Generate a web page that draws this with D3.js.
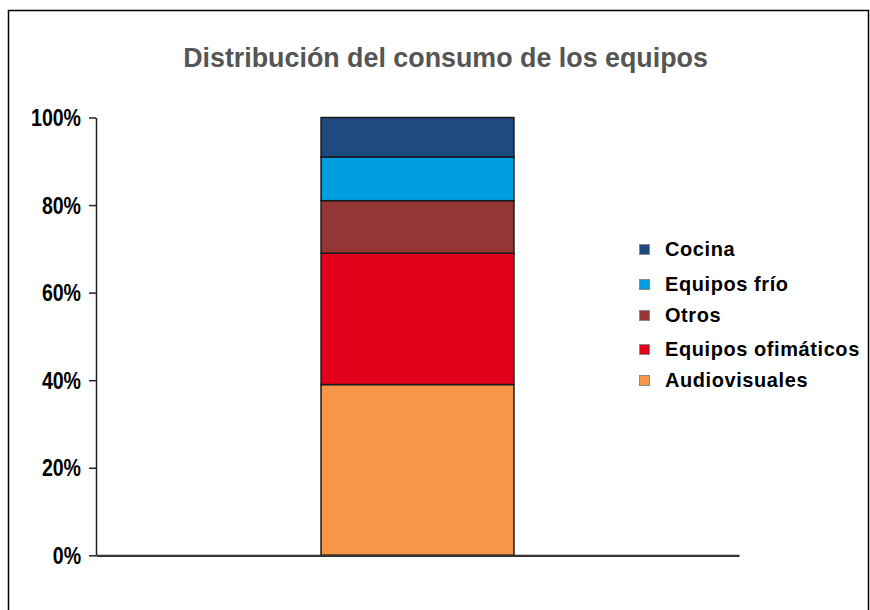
<!DOCTYPE html>
<html>
<head>
<meta charset="utf-8">
<script src="https://cdn.jsdelivr.net/npm/d3@7"></script>
<style>
  html, body { margin: 0; padding: 0; background: #fff; }
  svg { display: block; }
</style>
</head>
<body>
<svg id="chart" width="870" height="610"></svg>
<script>
// Consumption share by equipment group (percent of the single stacked bar)
const categories = ["Total"];
const seriesNames = ["Audiovisuales", "Equipos ofimáticos", "Otros", "Equipos frío", "Cocina"];
const seriesValues = [39, 30, 12, 10, 9];
const seriesColors = ["#F79646", "#E2001A", "#943634", "#009EE0", "#1F4A7F"];
const tickValues = [0, 20, 40, 60, 80, 100];
const tickLabels = ["0%", "20%", "40%", "60%", "80%", "100%"];
const legendOrder = ["Cocina", "Equipos frío", "Otros", "Equipos ofimáticos", "Audiovisuales"];
const titleText = "Distribución del consumo de los equipos";

const svg = d3.select("#chart");
const sans = "'Liberation Sans', Arial, 'DejaVu Sans', sans-serif";

// adjust font size so a text node spans a target width
function fitWidth(sel, target) {
  const node = sel.node();
  let fs = parseFloat(sel.attr("font-size"));
  for (let i = 0; i < 4; i++) {
    const w = node.getComputedTextLength();
    if (!w) break;
    fs = fs * target / w;
    sel.attr("font-size", fs.toFixed(2));
  }
}

// horizontal squeeze factor that makes a text node span a target width
function squeezeFor(sel, target) {
  const w = sel.node().getComputedTextLength();
  return w ? target / w : 1;
}

// outer frame
svg.append("path")
  .attr("d", "M8.5,620 V10.5 H868.5 V620")
  .attr("fill", "none")
  .attr("stroke", "#000")
  .attr("stroke-width", 1.5);

// title, condensed look
const title = svg.append("text")
  .attr("text-anchor", "middle")
  .attr("font-family", sans)
  .attr("font-weight", "bold")
  .attr("font-size", 27)
  .attr("fill", "#555555")
  .text(titleText);
const tsx = squeezeFor(title, 525);
title.attr("transform", `translate(445.5,67) scale(${tsx},1)`);

const plot = { left: 96, right: 739, top: 117.5, bottom: 555.3 };

const x = d3.scaleBand()
  .domain(categories)
  .range([plot.left, plot.right])
  .paddingInner(0.7)
  .paddingOuter(0.35);

const y = d3.scaleLinear()
  .domain([0, 100])
  .range([plot.bottom, plot.top]);

// stack the segments
const row = { cat: categories[0] };
seriesNames.forEach((n, i) => row[n] = seriesValues[i]);
const stacked = d3.stack().keys(seriesNames)([row]);
const color = d3.scaleOrdinal().domain(seriesNames).range(seriesColors);

svg.append("g").selectAll("g")
  .data(stacked)
  .join("g")
  .attr("fill", d => color(d.key))
  .selectAll("rect")
  .data(d => d)
  .join("rect")
  .attr("x", d => x(d.data.cat))
  .attr("width", x.bandwidth())
  .attr("y", d => y(d[1]))
  .attr("height", d => y(d[0]) - y(d[1]))
  .attr("stroke", "#1a1a1a")
  .attr("stroke-width", 1.5);

// y axis
const yAxis = d3.axisLeft(y)
  .tickValues(tickValues)
  .tickFormat((d, i) => tickLabels[i])
  .tickSizeInner(7)
  .tickSizeOuter(0)
  .tickPadding(0);

const gy = svg.append("g")
  .attr("transform", `translate(${plot.left},0)`)
  .call(yAxis);
gy.select(".domain").attr("stroke", "#222").attr("stroke-width", 1.5);
gy.selectAll(".tick line").attr("stroke", "#222").attr("stroke-width", 1.5);
const tickText = gy.selectAll(".tick text")
  .attr("font-family", sans)
  .attr("font-weight", "bold")
  .attr("font-size", 23)
  .attr("fill", "#000")
  .attr("x", null)
  .attr("dy", null);
const ksx = squeezeFor(tickText.filter((d, i) => i === 5), 50);
tickText.attr("transform", `translate(-15,8) scale(${ksx},1)`);

// x baseline (no ticks or labels)
const gx = svg.append("g")
  .attr("transform", `translate(0,${plot.bottom})`)
  .call(d3.axisBottom(x).tickSize(0).tickFormat(""));
gx.select(".domain").attr("stroke", "#333").attr("stroke-width", 2.2);

// legend
const legendY = [249, 284, 315, 349, 380];
const legend = svg.append("g");
const items = legend.selectAll("g")
  .data(legendOrder)
  .join("g")
  .attr("transform", (d, i) => `translate(0,${legendY[i]})`);
items.append("rect")
  .attr("x", 639.5)
  .attr("y", -4.5)
  .attr("width", 10)
  .attr("height", 10)
  .attr("fill", d => color(d))
  .attr("stroke", "#8a8a8a")
  .attr("stroke-width", 1);
const labels = items.append("text")
  .attr("x", 665)
  .attr("y", 0)
  .attr("dy", "0.36em")
  .attr("font-family", sans)
  .attr("font-weight", "bold")
  .attr("font-size", 18)
  .attr("letter-spacing", 0.6)
  .attr("fill", "#000")
  .text(d => d);
fitWidth(labels.filter(d => d === "Equipos ofimáticos"), 195);
const legFs = labels.filter(d => d === "Equipos ofimáticos").attr("font-size");
labels.attr("font-size", legFs);
</script>
</body>
</html>
